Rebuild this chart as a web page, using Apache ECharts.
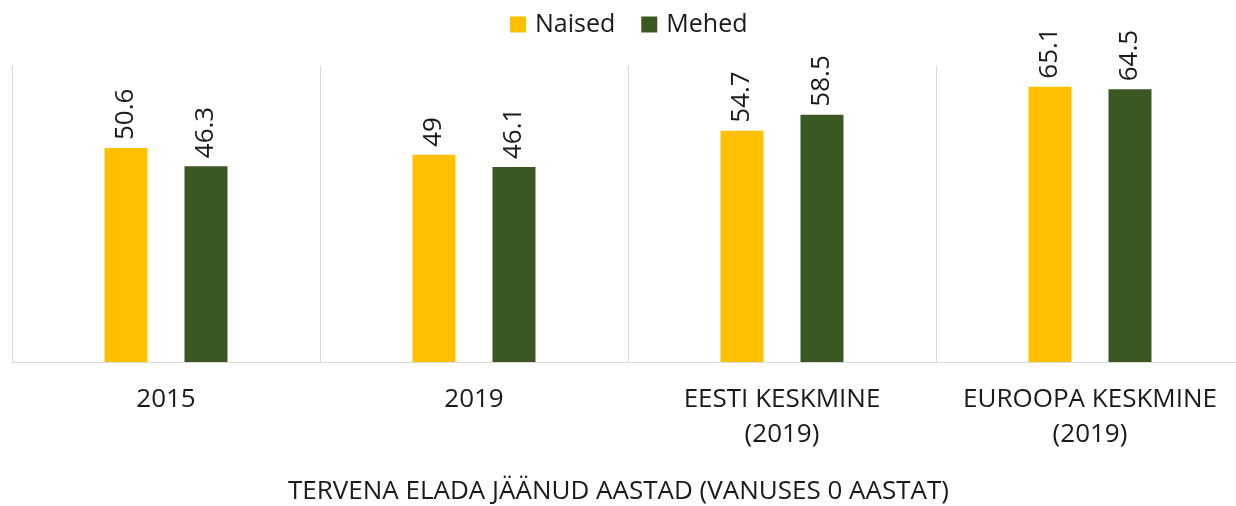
<!DOCTYPE html>
<html>
<head>
<meta charset="utf-8">
<script src="https://cdn.jsdelivr.net/npm/echarts@6/dist/echarts.min.js"></script>
<style>
  html, body { margin: 0; padding: 0; background: #fff; overflow: hidden; }
  /* the original chart is cut off on the right, so the canvas is a bit wider than the window */
  #chart { width: 1244px; height: 506px; }
</style>
</head>
<body>
<div id="chart"></div>
<script>
// andmed
const categories = ['2015', '2019', 'EESTI KESKMINE\n(2019)', 'EUROOPA KESKMINE\n(2019)']
const naised = [50.6, 49, 54.7, 65.1]
const mehed = [46.3, 46.1, 58.5, 64.5]
const seriesNames = ['Naised', 'Mehed']
const axisTitle = 'TERVENA ELADA JÄÄNUD AASTAD (VANUSES 0 AASTAT)'

const font = '"Open Sans", "DejaVu Sans", sans-serif'

const valueLabel = {
  show: true,
  position: 'top',
  rotate: 90,
  align: 'left',
  verticalAlign: 'middle',
  distance: 8,
  fontFamily: font,
  fontSize: 26,
  color: '#1a1a1a'
}

const chart = echarts.init(document.getElementById('chart'))

chart.setOption({
  animation: false,
  title: {
    text: axisTitle,
    left: 283,
    top: 474,
    textStyle: { fontFamily: font, fontSize: 26, fontWeight: 'normal', color: '#1a1a1a' }
  },
  legend: {
    data: seriesNames,
    top: 7,
    left: 505,
    itemWidth: 16,
    itemHeight: 16,
    itemGap: 26,
    icon: 'rect',
    textStyle: { fontFamily: font, fontSize: 25, color: '#1a1a1a', padding: [0, 0, 0, 4] }
  },
  grid: {
    left: 12,
    top: 66,
    right: 0,
    height: 296
  },
  xAxis: {
    type: 'category',
    data: categories,
    axisLine: { lineStyle: { color: '#d9d9d9', width: 1 } },
    axisTick: { show: false },
    splitLine: { show: true, lineStyle: { color: '#d9d9d9', width: 1 } },
    axisLabel: {
      fontFamily: font,
      fontSize: 26,
      color: '#1a1a1a',
      lineHeight: 35,
      margin: 20,
      interval: 0
    }
  },
  yAxis: {
    type: 'value',
    min: 0,
    max: 70,
    axisLine: { show: false },
    axisTick: { show: false },
    axisLabel: { show: false },
    splitLine: { show: false }
  },
  series: [
    {
      name: seriesNames[0],
      type: 'bar',
      data: naised,
      barWidth: 43,
      barGap: '86%',
      itemStyle: { color: '#FFC000' },
      label: valueLabel
    },
    {
      name: seriesNames[1],
      type: 'bar',
      data: mehed,
      barWidth: 43,
      itemStyle: { color: '#3B5823' },
      label: valueLabel
    }
  ]
})
</script>
</body>
</html>
